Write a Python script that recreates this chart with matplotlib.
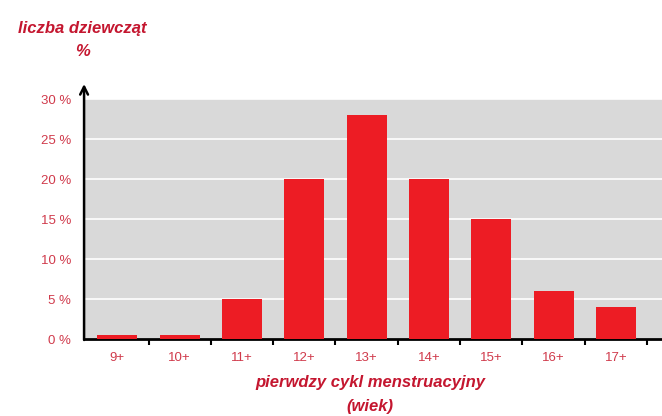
import numpy as np
import matplotlib.pyplot as plt

# age at first period and share of girls (%)
ages = ['9+', '10+', '11+', '12+', '13+', '14+', '15+', '16+', '17+']
share = [0.5, 0.5, 5, 20, 28, 20, 15, 6, 4]
y_ticks = [0, 5, 10, 15, 20, 25, 30]

red = '#ED1C24'
dark_red = '#C4162F'
label_red = '#D03A4B'

plt.rcParams['font.family'] = ['Liberation Sans', 'DejaVu Sans']

fig = plt.figure(figsize=(6.62, 4.16), dpi=100)
ax = fig.add_axes([0.1284, 0.185, 0.8716, 0.577])

x = np.arange(len(ages))
ax.set_facecolor('#D9D9D9')
ax.bar(x, share, width=0.64, color=red, zorder=3)

ax.set_xlim(-0.52, 8.74)
ax.set_ylim(0, 30)
ax.set_yticks(y_ticks)
ax.set_yticklabels([f'{v} %' for v in y_ticks], color=label_red, fontsize=9.5)
ax.yaxis.grid(True, color='white', linewidth=1.2, zorder=1)
ax.tick_params(axis='y', length=0, pad=10)

# category labels in the middle, tick marks between the bars
ax.set_xticks(x)
ax.set_xticklabels(ages, color=label_red, fontsize=9.5)
ax.tick_params(axis='x', which='major', length=0, pad=9)
ax.set_xticks(x + 0.5, minor=True)
ax.tick_params(axis='x', which='minor', length=4, width=1.5, color='black', direction='out')

for side in ['top', 'right', 'left']:
    ax.spines[side].set_visible(False)
ax.spines['bottom'].set_linewidth(2)
ax.spines['bottom'].set_color('black')

# y axis with an open arrow head
ax.annotate('', xy=(0.127, 1 - 84 / 416), xytext=(0.127, 1 - 340 / 416),
            xycoords='figure fraction', textcoords='figure fraction',
            arrowprops=dict(arrowstyle='->', color='black', lw=1.8,
                            mutation_scale=14, shrinkA=0, shrinkB=0))

title_kw = dict(ha='center', va='center', color=dark_red, fontsize=12,
                fontweight='bold', fontstyle='italic')
fig.text(0.125, 1 - 29 / 416, 'liczba dziewcząt', **title_kw)
fig.text(0.125, 1 - 51 / 416, '%', **title_kw)
fig.text(370 / 662, 1 - 382 / 416, 'pierwdzy cykl menstruacyjny', **title_kw)
fig.text(370 / 662, 1 - 406 / 416, '(wiek)', **title_kw)

fig.savefig('out.png', dpi=100)
